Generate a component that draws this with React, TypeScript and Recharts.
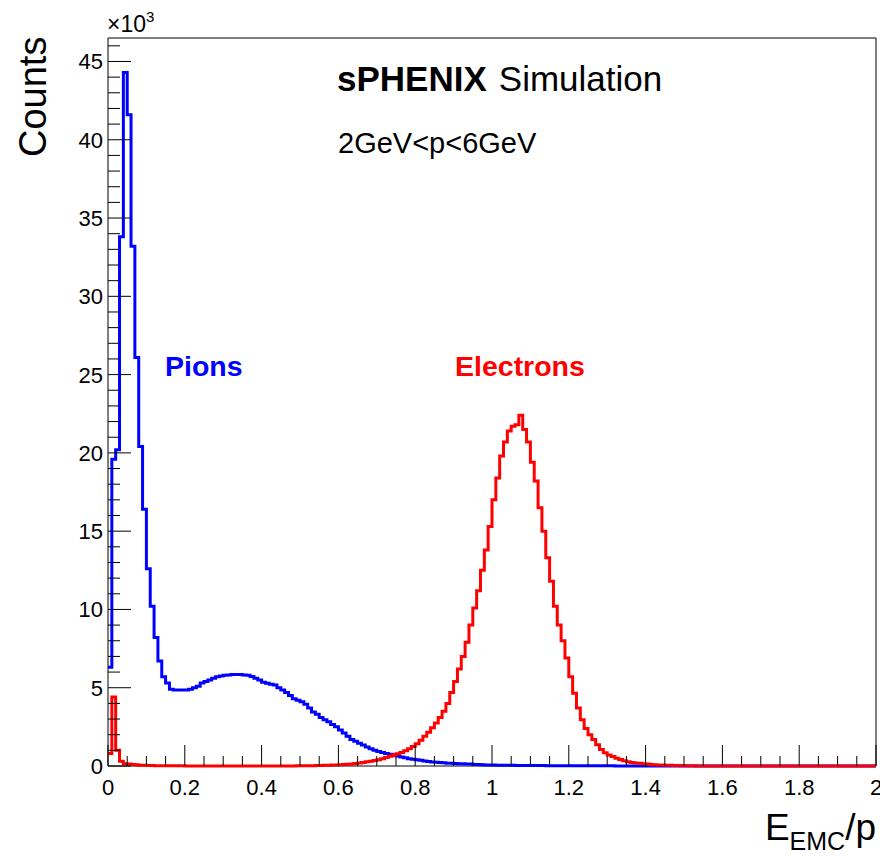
import React from "react";
import { ComposedChart, Line, XAxis, YAxis, CartesianGrid } from "recharts";

// E_EMC/p histograms, 200 bins of 0.01 from 0 to 2, counts in units of 10^3
const binLow = 0;
const binWidth = 0.01;

const pionCounts = [
  6.3, 19.6, 20.2, 33.8, 44.3, 41.6, 33.2, 26.1, 20.4, 16.4,
  12.6, 10.2, 8.2, 6.7, 5.7, 5.3, 4.9, 4.85, 4.85, 4.85,
  4.85, 4.9, 5.0, 5.1, 5.3, 5.4, 5.5, 5.6, 5.7, 5.75,
  5.8, 5.82, 5.85, 5.85, 5.85, 5.82, 5.8, 5.72, 5.6, 5.5,
  5.35, 5.28, 5.22, 5.18, 5.0, 4.85, 4.7, 4.5, 4.3, 4.2,
  4.1, 3.95, 3.7, 3.45, 3.3, 3.1, 2.95, 2.82, 2.65, 2.5,
  2.3, 2.1, 1.9, 1.7, 1.58, 1.45, 1.34, 1.22, 1.1, 1.0,
  0.92, 0.86, 0.8, 0.75, 0.7, 0.64, 0.58, 0.52, 0.47, 0.43,
  0.4, 0.36, 0.32, 0.29, 0.26, 0.24, 0.22, 0.2, 0.18, 0.17,
  0.16, 0.15, 0.14, 0.13, 0.12, 0.1, 0.09, 0.08, 0.07, 0.065,
  0.06, 0.055, 0.05, 0.045, 0.04, 0.04, 0.035, 0.035, 0.03, 0.03,
  0.03, 0.025, 0.025, 0.025, 0.02, 0.02, 0.02, 0.02, 0.02, 0.015,
  0.015, 0.015, 0.015, 0.015, 0.01, 0.01, 0.01, 0.01, 0.01, 0.01,
  0.01, 0.01, 0.008, 0.008, 0.008, 0.006, 0.006, 0.005, 0.005, 0.004,
  0.004, 0.003, 0.003, 0.002, 0.002, 0.002, 0.001, 0.001, 0, 0,
  0, 0, 0, 0, 0, 0, 0, 0, 0, 0,
  0, 0, 0, 0, 0, 0, 0, 0, 0, 0,
  0, 0, 0, 0, 0, 0, 0, 0, 0, 0,
  0, 0, 0, 0, 0, 0, 0, 0, 0, 0,
  0, 0, 0, 0, 0, 0, 0, 0, 0, 0,
];

const electronCounts = [
  0.8, 4.4, 1.0, 0.3, 0.15, 0.12, 0.1, 0.08, 0.05, 0.04,
  0.03, 0.03, 0.02, 0.02, 0.02, 0.015, 0.01, 0.01, 0.01, 0.01,
  0.008, 0.008, 0.006, 0.006, 0.005, 0.005, 0.004, 0.004, 0.003, 0.003,
  0.003, 0.002, 0.002, 0.002, 0.002, 0.002, 0.002, 0.002, 0.002, 0.002,
  0.003, 0.003, 0.003, 0.004, 0.004, 0.005, 0.006, 0.007, 0.008, 0.01,
  0.012, 0.015, 0.018, 0.022, 0.027, 0.033, 0.04, 0.05, 0.06, 0.07,
  0.08, 0.1, 0.11, 0.13, 0.16, 0.19, 0.23, 0.27, 0.31, 0.35,
  0.4, 0.47, 0.54, 0.62, 0.7, 0.78, 0.86, 0.98, 1.1, 1.25,
  1.42, 1.65, 1.9, 2.15, 2.45, 2.75, 3.1, 3.5, 4.0, 4.7,
  5.4, 6.2, 7.0, 7.9, 9.0, 10.1, 11.2, 12.5, 13.8, 15.3,
  17.0, 18.4, 19.8, 20.7, 21.4, 21.7, 21.8, 22.4, 21.5, 20.7,
  19.4, 18.2, 16.5, 15.0, 13.3, 11.8, 10.2, 9.0, 8.0, 6.9,
  5.7, 4.65, 3.7, 2.95, 2.4, 2.0, 1.7, 1.35, 1.05, 0.85,
  0.7, 0.6, 0.5, 0.42, 0.33, 0.27, 0.22, 0.19, 0.17, 0.15,
  0.12, 0.1, 0.08, 0.07, 0.06, 0.05, 0.04, 0.03, 0.03, 0.02,
  0.02, 0.01, 0.01, 0.005, 0, 0, 0, 0, 0, 0,
  0, 0, 0, 0, 0, 0, 0, 0, 0, 0,
  0, 0, 0, 0, 0, 0, 0, 0, 0, 0,
  0, 0, 0, 0, 0, 0, 0, 0, 0, 0,
  0, 0, 0, 0, 0, 0, 0, 0, 0, 0,
];

const xTickLabels = ["0", "0.2", "0.4", "0.6", "0.8", "1", "1.2", "1.4", "1.6", "1.8", "2"];
const yTickLabels = ["0", "5", "10", "15", "20", "25", "30", "35", "40", "45"];

const X_MAX = 2;
const Y_MAX = 46.5;
const FONT = "'Liberation Sans', Arial, Helvetica, sans-serif";

// bin low edges plus the closing edge, for a stepAfter outline
const rows = pionCounts.map((p, i) => ({
  x: +(binLow + i * binWidth).toFixed(4),
  pion: p,
  electron: electronCounts[i],
}));
rows.push({
  x: X_MAX,
  pion: pionCounts[pionCounts.length - 1],
  electron: electronCounts[electronCounts.length - 1],
});

const xTicks = Array.from({ length: 41 }, (_, i) => +(i * 0.05).toFixed(2));
const yTicks = Array.from({ length: 47 }, (_, i) => i);

function XTick(props: any) {
  const { x, y, payload } = props;
  const step = Math.round(payload.value / 0.05);
  const major = step % 4 === 0;
  return (
    <g>
      <line x1={x} x2={x} y1={y} y2={y - (major ? 21 : 10)} stroke="#000" strokeWidth={1} />
      {major && (
        <text x={x} y={y + 29} textAnchor="middle" fontSize={22} fontFamily={FONT} fill="#000">
          {xTickLabels[step / 4]}
        </text>
      )}
    </g>
  );
}

function YTick(props: any) {
  const { x, y, payload } = props;
  const major = payload.value % 5 === 0;
  return (
    <g>
      <line x1={x} x2={x + (major ? 23 : 12)} y1={y} y2={y} stroke="#000" strokeWidth={1} />
      {major && (
        <text x={x - 5} y={y + 8} textAnchor="end" fontSize={22} fontFamily={FONT} fill="#000">
          {yTickLabels[payload.value / 5]}
        </text>
      )}
    </g>
  );
}

export default function App() {
  return (
    <div style={{ position: "absolute", left: 0, top: 0, width: 880, height: 856, background: "#fff" }}>
      <ComposedChart
        width={880}
        height={856}
        data={rows}
        margin={{ top: 38, right: 4, bottom: 30, left: 48 }}
      >
        {/* frame drawn as grid so the histograms lie on top of it */}
        <CartesianGrid
          stroke="#000"
          strokeWidth={1}
          horizontalValues={[0, Y_MAX]}
          verticalValues={[0, X_MAX]}
          fill="none"
        />
        <XAxis
          dataKey="x"
          type="number"
          domain={[0, X_MAX]}
          ticks={xTicks}
          interval={0}
          height={60}
          tickSize={0}
          tickMargin={0}
          tick={<XTick />}
          axisLine={false}
          tickLine={false}
        />
        <YAxis
          type="number"
          domain={[0, Y_MAX]}
          ticks={yTicks}
          interval={0}
          width={60}
          tickSize={0}
          tickMargin={0}
          tick={<YTick />}
          axisLine={false}
          tickLine={false}
        />
        <Line
          type="stepAfter"
          dataKey="pion"
          stroke="#0000ff"
          strokeWidth={3}
          strokeLinejoin="miter"
          dot={false}
          activeDot={false}
          isAnimationActive={false}
        />
        <Line
          type="stepAfter"
          dataKey="electron"
          stroke="#ff0000"
          strokeWidth={3}
          strokeLinejoin="miter"
          dot={false}
          activeDot={false}
          isAnimationActive={false}
        />
      </ComposedChart>
      <svg
        width={880}
        height={856}
        style={{ position: "absolute", left: 0, top: 0, pointerEvents: "none" }}
        fontFamily={FONT}
      >
        <text x={107} y={32} fontSize={23} fill="#000">
          ×10<tspan dy={-10} fontSize={15}>3</tspan>
        </text>
        <text x={46} y={157} fontSize={38} fill="#000" textAnchor="start" transform="rotate(-90 46 157)">
          Counts
        </text>
        <text x={876} y={840} fontSize={37} fill="#000" textAnchor="end">
          E<tspan dy={10} fontSize={25}>EMC</tspan><tspan dy={-10} fontSize={37}>/p</tspan>
        </text>
        <text x={337} y={91} fontSize={35} fill="#000">
          <tspan fontWeight="bold">sPHENIX</tspan>
          <tspan dx={12}>Simulation</tspan>
        </text>
        <text x={338} y={153} fontSize={29} fill="#000">2GeV&lt;p&lt;6GeV</text>
        <text x={165} y={376} fontSize={28.5} fontWeight="bold" fill="#0000ff">Pions</text>
        <text x={455} y={376} fontSize={28.5} fontWeight="bold" fill="#ff0000">Electrons</text>
      </svg>
    </div>
  );
}
